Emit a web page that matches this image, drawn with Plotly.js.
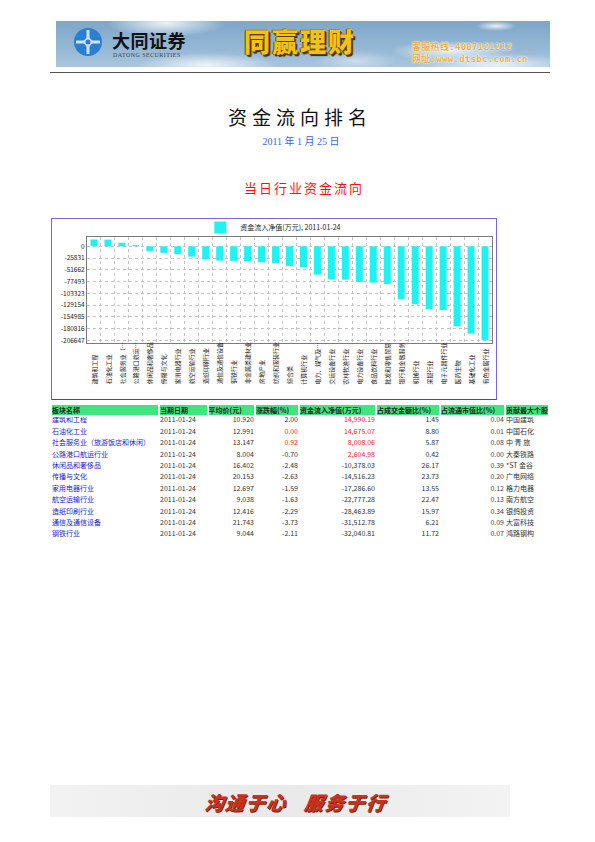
<!DOCTYPE html>
<html>
<head>
<meta charset="utf-8">
<script src="https://cdn.plot.ly/plotly-3.0.1.min.js"></script>
<style>
  html, body { margin: 0; padding: 0; }
  body { width: 595px; height: 842px; background: #ffffff; position: relative; overflow: hidden;
         font-family: "Noto Sans CJK SC", "Noto Sans", sans-serif; }
  .abs { position: absolute; }
  #banner { left: 56px; top: 21px; width: 494px; height: 46px; overflow: hidden;
    background:
      radial-gradient(ellipse 60px 14px at 110px 2px, rgba(255,255,255,0.85), rgba(255,255,255,0) 100%),
      radial-gradient(ellipse 70px 12px at 150px 44px, rgba(255,255,255,0.8), rgba(255,255,255,0) 100%),
      radial-gradient(ellipse 60px 10px at 395px 30px, rgba(255,255,255,0.8), rgba(255,255,255,0) 100%),
      radial-gradient(ellipse 80px 12px at 440px 44px, rgba(255,255,255,0.75), rgba(255,255,255,0) 100%),
      radial-gradient(ellipse 20px 5px at 440px 5px, rgba(255,255,255,0.8), rgba(255,255,255,0) 100%),
      radial-gradient(ellipse 40px 10px at 300px 40px, rgba(255,255,255,0.45), rgba(255,255,255,0) 100%),
      linear-gradient(180deg, #7fa6c8 0%, #93b6d4 55%, #a9c6de 100%);
  }
  #rule { left: 50px; top: 72px; width: 500px; height: 1px; background: #555; }
  #brand { left: 112px; top: 30px; font-size: 18px; font-weight: 700; color: #111; letter-spacing: 0.5px; line-height: 20px; }
  #brandEn { left: 113px; top: 52px; font-family: "Liberation Serif", serif; font-size: 6px; color: #444; letter-spacing: 0.45px; line-height: 6px; }
  #slogan { left: 244px; top: 26px; font-size: 26px; font-weight: 900; color: #f2c21a; letter-spacing: 2px; line-height: 30px;
    text-shadow: 1px 1px 0 #5a3a05, -1px 0 0 #7a5208, 0 -1px 0 #b88a10, 2px 2px 1px #3a2502; }
  .hot { left: 412px; font-size: 9px; font-weight: 700; color: #eeb040; line-height: 10px; letter-spacing: 0.3px;
    text-shadow: 0 0 2px #ffffff, 0 0 1px #ffffff; font-family: "DejaVu Sans Mono", "Noto Sans CJK SC", monospace; }
  #title { left: 0; width: 600px; top: 105px; text-align: center; font-size: 19px; letter-spacing: 5px; color: #111; line-height: 24px; }
  #date { left: 0; width: 602px; top: 136px; text-align: center; font-family: "Liberation Serif", "Noto Sans CJK SC", serif; font-size: 10px; color: #3a66f0; line-height: 12px; }
  #subtitle { left: 0; width: 608px; top: 180px; text-align: center; font-size: 13px; letter-spacing: 2px; color: #ff1010; line-height: 16px; }
  #chartBox { left: 51px; top: 218px; width: 444px; height: 180px; border: 1.5px solid #7a66dc; border-bottom-color: #3a48c8; }
  #chart { left: 51px; top: 218px; width: 446px; height: 182px; }
  #table { left: 51px; top: 404px; width: 3984px; height: 1120px; transform-origin: 0 0; }
  #footer { left: 50px; top: 785px; width: 460px; height: 32px;
    background: linear-gradient(90deg, #f2f2f2 0%, #e9e9e9 50%, #f3f3f3 100%); }
  #footText { left: 205px; top: 790px; font-size: 19px; font-weight: 900; font-style: italic; color: #c9321c; letter-spacing: 1.5px; line-height: 24px;
    text-shadow: 1px 1px 0 #7a1a0a; white-space: pre; transform: skewX(-8deg); }
</style>
</head>
<body>
<script>
// ---------------- DATA ----------------
const categories = [
  "建筑和工程", "石油化工业", "社会服务业（…", "公路港口航运…", "休闲品和奢侈品",
  "传播与文化", "家用电器行业", "航空运输行业", "造纸印刷行业", "通信及通信设备",
  "钢铁行业", "非金属类建材业", "房地产业", "纺织和服装行业", "综合类",
  "计算机行业", "电力、煤气及…", "交运设备行业", "农林牧渔行业", "电力设备行业",
  "食品饮料行业", "批发和零售贸易", "银行和金融服务", "机械行业", "采掘行业",
  "电子元器件行业", "医药生物", "基础化工业", "有色金属行业"
];
const netInflow = [
  14990.19, 14675.07, 8008.06, 2604.98, -10378.03,
  -14516.23, -17286.60, -22777.28, -28463.89, -31512.78,
  -32040.81, -33000, -35200, -37400, -43200,
  -46200, -62300, -72600, -73300, -78400,
  -79900, -82800, -115800, -127500, -137800,
  -140000, -175900, -192000, -206647
];
const yTickVals = [0, -25831, -51662, -77493, -103323, -129154, -154985, -180816, -206647];
const seriesName = "资金流入净值(万元), 2011-01-24";

const tableHeader = ["板块名称", "当期日期", "平均价(元)", "涨跌幅(%)", "资金流入净值(万元)", "占成交金额比(%)", "占流通市值比(%)", "贡献最大个股"];
const sectorNames = ["建筑和工程", "石油化工业", "社会服务业（旅游饭店和休闲）", "公路港口航运行业", "休闲品和奢侈品",
  "传播与文化", "家用电器行业", "航空运输行业", "造纸印刷行业", "通信及通信设备", "钢铁行业"];
const tradeDates = ["2011-01-24", "2011-01-24", "2011-01-24", "2011-01-24", "2011-01-24", "2011-01-24",
  "2011-01-24", "2011-01-24", "2011-01-24", "2011-01-24", "2011-01-24"];
const avgPrices = [10.920, 12.991, 13.147, 8.004, 16.402, 20.153, 12.697, 9.038, 12.416, 21.743, 9.044];
const changePct = [2.00, 0.00, 0.92, -0.70, -2.48, -2.63, -1.59, -1.63, -2.29, -3.73, -2.11];
const netInflowTable = [14990.19, 14675.07, 8008.06, 2604.98, -10378.03, -14516.23, -17286.60, -22777.28, -28463.89, -31512.78, -32040.81];
const turnoverShare = [1.45, 8.80, 5.87, 0.42, 26.17, 23.73, 13.55, 22.47, 15.97, 6.21, 11.72];
const floatCapShare = [0.04, 0.01, 0.08, 0.00, 0.39, 0.20, 0.12, 0.13, 0.34, 0.09, 0.07];
const topStocks = ["中国建筑", "中国石化", "中\u00a0青\u00a0旅", "大秦铁路", "*ST\u00a0金谷", "广电网络", "格力电器", "南方航空", "银鸽投资", "大富科技", "鸿路钢构"];
</script>

<div id="banner" class="abs"></div>
<svg class="abs" style="left:72px;top:27px" width="32" height="30" viewBox="0 0 32 30">
  <circle cx="16" cy="15" r="14" fill="#2a7fd2"/>
  <path d="M16 3 L16 13 M16 17 L16 27 M4 15 L14 15 M18 15 L28 15" stroke="#cfe3f5" stroke-width="3"/>
  <rect x="12" y="11" width="8" height="8" fill="#cfe3f5" transform="rotate(45 16 15)"/>
  <circle cx="16" cy="15" r="2.5" fill="#2a7fd2"/>
</svg>
<div id="brand" class="abs">大同证券</div>
<div id="brandEn" class="abs">DATONG SECURITIES</div>
<div id="slogan" class="abs">同赢理财</div>
<div class="abs hot" style="top:42px">客服热线:4007121212</div>
<div class="abs hot" style="top:54px">网址:www.dtsbc.com.cn</div>
<div id="rule" class="abs"></div>

<div id="title" class="abs">资金流向排名</div>
<div id="date" class="abs">2011 年 1 月 25 日</div>
<div id="subtitle" class="abs">当日行业资金流向</div>

<div id="chartBox" class="abs"></div>
<div id="chart" class="abs"></div>
<div id="table" class="abs"></div>

<div id="footer" class="abs"></div>
<div id="footText" class="abs">沟通于心   服务于行</div>

<script>
const FONT = "Noto Sans CJK SC, Noto Sans, sans-serif";
const idx = categories.map((c, i) => i);

const barTrace = {
  type: "bar", x: idx, y: netInflow, name: seriesName,
  marker: { color: "#1ef2f2" }, width: 0.5, hoverinfo: "none", showlegend: true
};

const labelAnnotations = categories.map((c, i) => ({
  x: i, xref: "x", y: -0.4, yref: "paper", text: c, textangle: -90,
  showarrow: false, xanchor: "center", yanchor: "bottom",
  font: { size: 6, color: "#222", family: FONT }, borderpad: 0
}));

const chartLayout = {
  width: 446, height: 182,
  margin: { l: 36, r: 5, t: 19, b: 57, autoexpand: false },
  paper_bgcolor: "rgba(0,0,0,0)", plot_bgcolor: "#ffffff",
  font: { family: FONT, color: "#222" },
  showlegend: true,
  legend: { orientation: "h", x: 0.46, xanchor: "center", y: 1.09, yanchor: "middle",
            font: { size: 7, family: FONT, color: "#222" }, bgcolor: "rgba(0,0,0,0)", borderwidth: 0 },
  xaxis: { range: [-0.5, categories.length - 0.5], tickmode: "linear", tick0: 0.5, dtick: 1,
           showticklabels: false, ticks: "", showgrid: true, gridcolor: "#c4c4c4", griddash: "dot", gridwidth: 1,
           zeroline: false, showline: true, mirror: true, linecolor: "#7a7a7a", linewidth: 1 },
  yaxis: { range: [-212600, 20450], tickmode: "array", tickvals: yTickVals, ticktext: yTickVals.map(String),
           tickfont: { size: 6.5, family: FONT, color: "#222" }, ticks: "",
           showgrid: true, gridcolor: "#c4c4c4", griddash: "dot", gridwidth: 1,
           zeroline: false, showline: true, mirror: true, linecolor: "#7a7a7a", linewidth: 1 },
  annotations: labelAnnotations,
  bargap: 0.5
};

Plotly.newPlot("chart", [barTrace], chartLayout, { staticPlot: true, displayModeBar: false });

// ---------------- TABLE ----------------
// Drawn at 8x size (so Plotly's fixed cell padding becomes ~1px) and scaled down afterwards.
const K = 8;
const dark = "#333333";
const red = "#ff1a1a";
const changeColors = changePct.map((v, i) => (i > 0 && v >= 0) ? red : dark);
const inflowColors = netInflowTable.map(v => v > 0 ? red : dark);

const tableTrace = {
  type: "table",
  domain: { x: [0, 1], y: [0, 1] },
  columnwidth: [108, 48.5, 47.5, 44, 77, 64, 65, 44],
  header: {
    values: tableHeader.map(h => "<b>" + h + "</b>"),
    align: "left", height: 11 * K,
    fill: { color: "#3fe67c" },
    line: { color: "#ffffff", width: 2 * K },
    font: { family: FONT, size: 7 * K, color: "#222" }
  },
  cells: {
    values: [sectorNames, tradeDates, avgPrices, changePct, netInflowTable, turnoverShare, floatCapShare, topStocks],
    format: ["", "", ".3f", ".2f", ",.2f", ".2f", ".2f", ""],
    align: ["left", "left", "right", "right", "right", "right", "right", "left"],
    height: 11.4 * K,
    fill: { color: "#ffffff" },
    line: { color: "#ffffff", width: 0 },
    font: { family: FONT, size: 7 * K,
      color: ["#1a1ad8", dark, dark, changeColors, inflowColors, dark, "#445", dark] }
  }
};

Plotly.newPlot("table", [tableTrace], {
  width: 498 * K, height: 140 * K, margin: { l: 0, r: 0, t: 0, b: 0 },
  paper_bgcolor: "rgba(0,0,0,0)", font: { family: FONT }
}, { staticPlot: true, displayModeBar: false }).then(function () {
  document.getElementById("table").style.transform = "scale(" + (1 / K) + ")";
});
</script>
</body>
</html>
